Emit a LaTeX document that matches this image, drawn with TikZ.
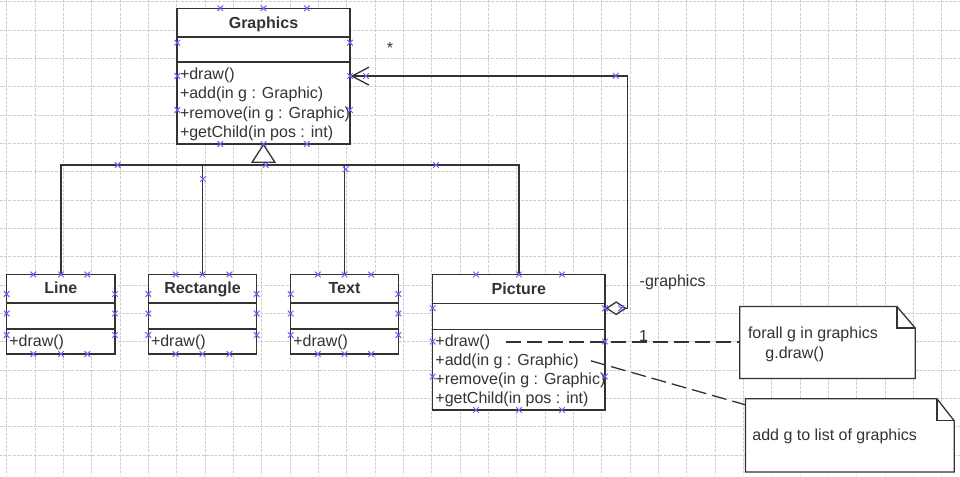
\documentclass[tikz,border=0pt]{standalone}
\usepackage{fontspec}
\setmainfont{Liberation Sans}
\usetikzlibrary{arrows.meta,calc}
\definecolor{ink}{HTML}{333333}
\definecolor{gridc}{HTML}{CFCFCF}
\definecolor{handle}{HTML}{6464FF}
\begin{document}
\begin{tikzpicture}[x=1pt,y=-1pt,
  every node/.style={font=\fontsize{16}{19}\selectfont, text=ink},
  gridline/.style={draw=gridc, line width=0.8pt, dash pattern=on 3pt off 1.2pt},
  classbox/.style={draw=ink, fill=white, line width=1.3pt, inner sep=0pt, rectangle},
  notebox/.style={draw=none, inner sep=0pt, rectangle},
  conn/.style={draw=ink, line width=1.3pt},
  dashconn/.style={draw=ink, line width=1.3pt, dash pattern=on 15pt off 6pt},
  memb/.style={anchor=base west, inner sep=0pt},
  cname/.style={anchor=base, inner sep=0pt, font=\fontsize{16}{19}\selectfont\bfseries},
  lbl/.style={anchor=base west, inner sep=0pt}
]
\useasboundingbox (0,0) rectangle (960,476);
\fill[white] (0,0) rectangle (960,476);
% grid
\foreach \i in {0,...,33} \draw[gridline] ({6.67+28.333*\i},0) -- ({6.67+28.333*\i},476);
\foreach \j in {0,...,16} \draw[gridline] (0,{1.67+28.333*\j}) -- (960,{1.67+28.333*\j});

% class boxes
\node[classbox, minimum width=173pt, minimum height=135.7pt] (graphics) at (263.5,76.15) {};
\node[classbox, minimum width=108.3pt, minimum height=79.5pt] (cline) at (60.85,314.25) {};
\node[classbox, minimum width=108.4pt, minimum height=79.5pt] (crect) at (202.5,314.25) {};
\node[classbox, minimum width=107.6pt, minimum height=79.5pt] (ctext) at (344.5,314.25) {};
\node[classbox, minimum width=172.3pt, minimum height=135.5pt] (cpict) at (518.85,342.25) {};

% compartments
\foreach \c/\a/\b in {graphics/29.4/54.4, cline/29/55, crect/29/55, ctext/29/55, cpict/29.3/55.3} {
  \draw[conn] ($(\c.north west)+(0,\a)$) -- ($(\c.north east)+(0,\a)$);
  \draw[conn] ($(\c.north west)+(0,\b)$) -- ($(\c.north east)+(0,\b)$);
}

% class texts
\node[cname] (gname) at (263.5,28.3) {Graphics};
\node[memb] (gdraw) at (179.8,80) {+draw()};
\node[memb] (gadd) at (179.8,99) {+add(in g : Graphic)};
\node[memb] (grem) at (179.8,118) {+remove(in g : Graphic)};
\node[memb] (gget) at (179.8,137) {+getChild(in pos : int)};

\node[cname] (lname) at (60.85,293.5) {Line};
\node[memb] (ldraw) at (9.2,346) {+draw()};
\node[cname] (rname) at (202.5,293.5) {Rectangle};
\node[memb] (rdraw) at (150.8,346) {+draw()};
\node[cname] (tname) at (344.5,293.5) {Text};
\node[memb] (tdraw) at (293.2,346) {+draw()};

\node[cname] (pname) at (518.85,294.3) {Picture};
\node[memb] (pdraw) at (435.2,346) {+draw()};
\node[memb] (padd) at (435.2,365) {+add(in g : Graphic)};
\node[memb] (prem) at (435.2,384) {+remove(in g : Graphic)};
\node[memb] (pget) at (435.2,403) {+getChild(in pos : int)};

% generalization
\coordinate (tribase) at (263.5,162.3);
\coordinate (bus) at (263.5,165);
\draw[conn] (cline.north) |- (bus) -| (cpict.north);
\draw[conn] (crect.north) |- (bus);
\draw[conn] (ctext.north) |- (bus);
\draw[conn] (tribase) -- (bus);
\draw[conn, fill=white, line join=miter] (graphics.south) -- ($(tribase)+(-11.4,0)$) -- ($(tribase)+(11.4,0)$) -- cycle;

% aggregation
\draw[conn, {Diamond[open, length=21pt, width=14pt]}-{Straight Barb[length=17pt, width=18pt]}]
  ([yshift=34pt]cpict.east) -- ++(22,0) |- (graphics.east);
\node[lbl] (mult) at (386.6,53.3) {*};
\node[lbl] (role) at (639.5,286) {-graphics};
\node[lbl] (one) at (638.9,341.5) {1};

% notes
\node[notebox, minimum width=175pt, minimum height=71.6pt] (note1) at (827.5,342.5) {};
\node[notebox, minimum width=208.3pt, minimum height=72.7pt] (note2) at (849.85,435.35) {};
\foreach \n/\fx/\fy in {note1/18.3/21.6, note2/17.3/22} {
  \draw[conn, fill=white, line join=miter] (\n.north west) -- ($(\n.north east)+(-\fx,0)$) -- ($(\n.north east)+(0,\fy)$) -- (\n.south east) -- (\n.south west) -- cycle;
  \draw[conn] ($(\n.north east)+(-\fx,0)$) -- ($(\n.north east)+(-\fx,\fy)$) -- ($(\n.north east)+(0,\fy)$);
}
\node[lbl] (n1a) at (747.8,338.3) {forall g in graphics};
\node[lbl] (n1b) at (765.2,358.3) {g.draw()};
\node[lbl] (n2a) at (752.2,440) {add g to list of graphics};

\draw[dashconn] ([xshift=16pt]pdraw.east) -- (pdraw.east -| note1.west);
\draw[dashconn] ([xshift=12pt]padd.east) -- ($(note2.north west)+(0,6)$);

% selection handles
\foreach \p in {
 (220.3,8.3), (263.5,8.3), (306.8,8.3), (220.3,144), (263.5,144), (306.8,144),
 (177.3,42.7), (177.3,76), (177.3,110), (350,42.7), (350,76), (350,110), (366,76),
 (615.7,75.7), (621,308.3),
 (33.3,274.5), (61,274.5), (87.3,274.5), (33.3,354), (61,354), (87.3,354),
 (6.7,294), (6.7,313.5), (6.7,335), (115,294), (115,313.5), (115,335),
 (175.6,274.5), (202.5,274.5), (229.4,274.5), (175.6,354), (202.5,354), (229.4,354),
 (148.3,294), (148.3,313.5), (148.3,335), (256.7,294), (256.7,313.5), (256.7,335),
 (317.8,274.5), (344.5,274.5), (371.2,274.5), (317.8,354), (344.5,354), (371.2,354),
 (290.7,294), (290.7,313.5), (290.7,335), (398.3,294), (398.3,313.5), (398.3,335),
 (476,274.5), (519,274.5), (562,274.5), (476,410), (519,410), (562,410),
 (432.7,308.3), (432.7,341.5), (432.7,376.5), (605,308.3), (605,341.5), (605,376.5),
 (117.7,165), (203,179), (265.7,165), (345.7,169.3), (436,165)}
 \draw[draw=handle, line width=1pt] \p ++(-2.8,-2.8) -- ++(5.6,5.6) \p ++(-2.8,2.8) -- ++(5.6,-5.6);
\end{tikzpicture}
\end{document}
